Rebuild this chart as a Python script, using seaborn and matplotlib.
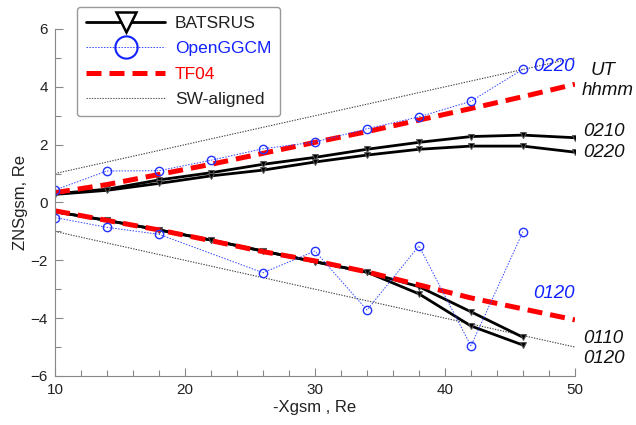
import numpy as np
import pandas as pd
import matplotlib
matplotlib.use("Agg")
import matplotlib.pyplot as plt
from matplotlib.lines import Line2D
import seaborn as sns

# ---------------- data ----------------
x_b = [10, 14, 18, 22, 26, 30, 34, 38, 42, 46, 50]
bats_0210 = [0.30, 0.46, 0.78, 1.03, 1.32, 1.56, 1.84, 2.08, 2.28, 2.33, 2.24]
bats_0220 = [0.28, 0.42, 0.66, 0.92, 1.12, 1.40, 1.64, 1.84, 1.95, 1.95, 1.74]

x_bl = [10, 14, 18, 22, 26, 30, 34, 38, 42, 46]
bats_0110 = [-0.32, -0.62, -0.95, -1.30, -1.68, -2.05, -2.41, -2.91, -3.78, -4.66]
bats_0120 = [-0.32, -0.62, -0.95, -1.30, -1.68, -2.05, -2.41, -3.16, -4.27, -4.93]

x_o_up = [10, 14, 18, 22, 26, 30, 34, 38, 42, 46]
ggcm_0220 = [0.43, 1.09, 1.10, 1.46, 1.86, 2.09, 2.55, 2.96, 3.50, 4.61]
x_o_lo = [10, 14, 18, 26, 30, 34, 38, 42, 46]
ggcm_0120 = [-0.52, -0.86, -1.10, -2.43, -1.68, -3.72, -1.50, -4.96, -1.01]

x_t = [10, 14, 18, 22, 26, 30, 34, 38, 42, 46, 50]
tf04_up = [0.34, 0.62, 0.97, 1.32, 1.70, 2.08, 2.45, 2.85, 3.25, 3.66, 4.09]
tf04_lo = [-0.29, -0.62, -0.95, -1.32, -1.70, -2.02, -2.40, -2.85, -3.30, -3.68, -4.06]

x_sw = [10, 50]
sw_up = [1.0, 5.0]
sw_lo = [-1.0, -5.0]

legend_labels = ["BATSRUS", "OpenGGCM", "TF04", "SW-aligned"]

# ---------------- frames ----------------
def frame(xs, ys, run):
    return pd.DataFrame({"x": xs, "y": ys, "run": run})

df_bats = pd.concat([frame(x_b, bats_0210, "0210"), frame(x_b, bats_0220, "0220"),
                     frame(x_bl, bats_0110, "0110"), frame(x_bl, bats_0120, "0120")])
df_ggcm = pd.concat([frame(x_o_up, ggcm_0220, "0220"), frame(x_o_lo, ggcm_0120, "0120")])
df_tf = pd.concat([frame(x_t, tf04_up, "up"), frame(x_t, tf04_lo, "lo")])
df_sw = pd.concat([frame(x_sw, sw_up, "up"), frame(x_sw, sw_lo, "lo")])

# ---------------- plot ----------------
sns.set_style("ticks")
plt.rcParams["font.family"] = ["Liberation Sans", "DejaVu Sans"]

fig = plt.figure(figsize=(6.36, 4.25), dpi=100)
ax = fig.add_axes([0.0865, 0.1153, 0.8175, 0.8165])

sns.lineplot(data=df_sw, x="x", y="y", units="run", estimator=None, sort=False,
             color="#444444", lw=0.8, linestyle=(0, (1.2, 1.2)), ax=ax, legend=False)
sns.lineplot(data=df_bats, x="x", y="y", units="run", estimator=None, sort=False,
             color="black", lw=2.0, marker="v", markersize=5, markeredgecolor="#555555",
             markerfacecolor="black", ax=ax, legend=False)
sns.lineplot(data=df_tf, x="x", y="y", units="run", estimator=None, sort=False,
             color="#ff0000", lw=3.6, linestyle=(0, (3.0, 1.6)), ax=ax, legend=False)
sns.lineplot(data=df_ggcm, x="x", y="y", units="run", estimator=None, sort=False,
             color="#3344ff", lw=0.7, linestyle=(0, (1.5, 1.5)), marker="o", markersize=6,
             markerfacecolor="none", markeredgecolor="#2233ff", markeredgewidth=1.0,
             ax=ax, legend=False)

ax.set_xlim(10, 50)
ax.set_ylim(-6, 6)
ax.set_xticks([10, 20, 30, 40, 50])
ax.set_xticks(np.arange(10, 51, 2), minor=True)
ax.set_yticks([-6, -4, -2, 0, 2, 4, 6])
ax.set_yticks(np.arange(-6, 7, 1), minor=True)
ax.tick_params(which="both", direction="in", color="#888888", labelsize=11,
               labelcolor="#222222", width=0.8)
ax.tick_params(which="major", length=6, pad=5)
ax.tick_params(which="minor", length=4)
for s in ["top", "right"]:
    ax.spines[s].set_visible(False)
for s in ["left", "bottom"]:
    ax.spines[s].set_color("#888888")
    ax.spines[s].set_linewidth(0.8)

ax.set_xlabel("-Xgsm , Re", fontsize=12, color="#222222", labelpad=2)
ax.set_ylabel("ZNSgsm, Re", fontsize=12, color="#222222", labelpad=2)

# annotations
tkw = dict(fontsize=13.5, style="italic", ha="left", va="center", clip_on=False)
ax.text(46.8, 4.70, "0220", color="#1122ff", **tkw)
ax.text(51.2, 4.58, "UT", color="#111111", **tkw)
ax.text(50.5, 3.87, "hhmm", color="#111111", **tkw)
ax.text(50.6, 2.47, "0210", color="#111111", **tkw)
ax.text(50.6, 1.74, "0220", color="#111111", **tkw)
ax.text(46.8, -3.14, "0120", color="#1122ff", **tkw)
ax.text(50.6, -4.70, "0110", color="#111111", **tkw)
ax.text(50.6, -5.39, "0120", color="#111111", **tkw)

handles = [
    Line2D([], [], color="black", lw=2.0, marker="v", markersize=15,
           markerfacecolor="white", markeredgecolor="black", markeredgewidth=1.8),
    Line2D([], [], color="#3344ff", lw=0.7, linestyle=(0, (1.5, 1.5)), marker="o",
           markersize=16, markerfacecolor="none", markeredgecolor="#1122ff",
           markeredgewidth=1.5),
    Line2D([], [], color="#ff0000", lw=3.6, linestyle=(0, (3.0, 1.6))),
    Line2D([], [], color="#555555", lw=0.8, linestyle=(0, (1.2, 1.2))),
]
leg = ax.legend(handles, legend_labels, loc="upper left",
                bbox_to_anchor=(0.121, 0.984), bbox_transform=fig.transFigure,
                fontsize=12.5, handlelength=4.6, handletextpad=0.55, labelspacing=0.6,
                borderpad=0.5, frameon=True, fancybox=True, framealpha=1,
                edgecolor="#999999", borderaxespad=0)
for t, c in zip(leg.get_texts(), ["#222222", "#1122ff", "#ff0000", "#222222"]):
    t.set_color(c)

fig.savefig("out.png", dpi=100)
